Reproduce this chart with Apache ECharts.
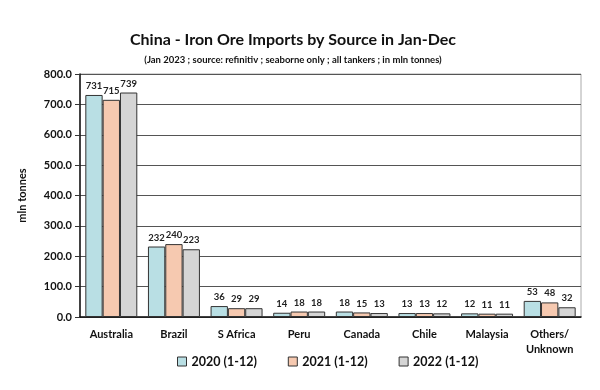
<!DOCTYPE html>
<html><head><meta charset="utf-8">
<script src="https://cdn.jsdelivr.net/npm/echarts@6/dist/echarts.min.js"></script>
<style>html,body{margin:0;padding:0;background:#fff}#c{width:600px;height:390px}</style>
</head><body><div id="c"></div>
<script>
const categories = ['Australia','Brazil','S Africa','Peru','Canada','Chile','Malaysia','Others/\nUnknown'];
const seriesNames = ['2020 (1-12)','2021 (1-12)','2022 (1-12)'];
const v2020 = [731,232,36,14,18,13,12,53];
const v2021 = [715,240,29,18,15,13,11,48];
const v2022 = [739,223,29,18,13,12,11,32];
const colors = ['#b9dfe4','#f6c9b0','#d5d5d5'];
const FONT = 'Lato';
const chart = echarts.init(document.getElementById('c'), null, {renderer:'canvas'});
const mk = (name, data, color) => ({
  name, type:'bar', data, barGap:'0%', barCategoryGap:'17%',
  itemStyle:{color, borderColor:'#333', borderWidth:1},
  label:{show:true, position:'top', distance:4, color:'#222', fontFamily:FONT, fontWeight:'bold', fontSize:9.5}
});
chart.setOption({
  animation:false,
  textStyle:{fontFamily:FONT},
  title:[
    {text:'China - Iron Ore Imports by Source in Jan-Dec', left:288, textAlign:'center', top:27,
     textStyle:{fontFamily:FONT, fontWeight:'bold', fontSize:16, color:'#111'}},
    {text:'(Jan 2023 ; source: refinitiv ; seaborne only ; all tankers ; in mln tonnes)', left:288, textAlign:'center', top:50,
     textStyle:{fontFamily:FONT, fontWeight:'bold', fontSize:9.5, color:'#111'}}
  ],
  legend:{data:seriesNames, top:355, left:177, padding:0, itemWidth:9, itemHeight:9, itemGap:31,
    icon:'rect', textStyle:{fontFamily:FONT, fontWeight:'bold', fontSize:12.5, color:'#111'},
    itemStyle:{borderColor:'#333', borderWidth:1}},
  grid:{left:80, right:19, top:74, bottom:73, show:true, borderColor:'#aaa', borderWidth:1},
  xAxis:{type:'category', data:categories,
    axisLine:{lineStyle:{color:'#111', width:1.5}}, axisTick:{show:false},
    axisLabel:{fontFamily:FONT, fontWeight:'bold', fontSize:11, color:'#111', margin:10, lineHeight:15}},
  yAxis:{type:'value', min:0, max:800, interval:100, name:'mln tonnes', nameLocation:'middle', nameGap:52,
    nameTextStyle:{fontFamily:FONT, fontWeight:'bold', fontSize:11, color:'#111'},
    axisLine:{show:true, lineStyle:{color:'#111', width:1.5}},
    axisTick:{show:true, length:5, lineStyle:{color:'#333'}},
    axisLabel:{formatter:v=>v.toFixed(1), fontFamily:FONT, fontWeight:'bold', fontSize:11, color:'#111', margin:8},
    splitLine:{lineStyle:{color:'#555', width:1}}},
  series:[mk(seriesNames[0], v2020, colors[0]), mk(seriesNames[1], v2021, colors[1]), mk(seriesNames[2], v2022, colors[2])]
});
</script></body></html>
